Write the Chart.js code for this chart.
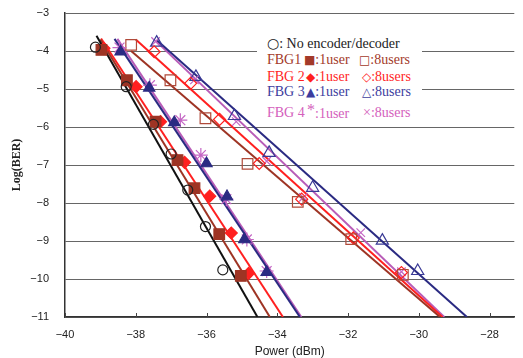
<!DOCTYPE html>
<html>
<head>
<meta charset="utf-8">
<script src="https://cdn.jsdelivr.net/npm/chart.js@4"></script>
<style>
  html, body { margin: 0; padding: 0; background: #fff; }
  #wrap { position: relative; width: 523px; height: 358px; }
  #legend { position: absolute; left: 257px; top: 33px; width: 165px; height: 94px; background: #fff;
    font-family: "Liberation Serif", "Times New Roman", serif; font-size: 14px; }
  #legend .row { position: absolute; left: 0; width: 165px; height: 14px; line-height: 14px; white-space: nowrap; }
  #legend span { position: absolute; top: 0; white-space: nowrap; }
  #legend b { font-weight: normal; font-family: "DejaVu Sans", sans-serif; font-size: 12px; }
  #legend i { font-style: normal; font-size: 16px; position: relative; top: -3px; }
</style>
</head>
<body>
<div id="wrap">
  <canvas id="berChart" width="523" height="358"></canvas>
  <div id="legend">
    <div class="row" style="top:3px;color:#222"><span style="left:10px"><b style="font-size:14px">○</b>: No encoder/decoder</span></div>
    <div class="row" style="top:20px;color:#a33a2a"><span style="left:10px">FBG1</span><span style="left:47px"><b>■</b>:1user</span><span style="left:102px"><b>□</b>:8users</span></div>
    <div class="row" style="top:37px;color:#ff1f1f"><span style="left:10px">FBG 2</span><span style="left:49px"><b>◆</b>:1user</span><span style="left:105px"><b>◇</b>:8users</span></div>
    <div class="row" style="top:52px;color:#3d3d9e"><span style="left:10px">FBG 3</span><span style="left:49px"><b>▲</b>:1user</span><span style="left:105px"><b>△</b>:8users</span></div>
    <div class="row" style="top:73px;color:#d460bc"><span style="left:10px">FBG 4</span><span style="left:50px"><i>*</i>:1user</span><span style="left:106px">×:8users</span></div>
  </div>
</div>
<script>
// measured points, Power (dBm) vs Log(BER)
var noCoderX = [-39.14, -38.27, -37.50, -37.00, -36.53, -36.03, -35.54];
var noCoderY = [-3.90, -4.94, -5.93, -6.71, -7.66, -8.62, -9.76];

var fbg1OneX = [-38.97, -38.25, -37.44, -36.82, -36.34, -35.64, -35.03];
var fbg1OneY = [-3.97, -4.77, -5.86, -6.87, -7.61, -8.82, -9.92];
var fbg2OneX = [-38.90, -37.99, -37.30, -36.62, -35.91, -35.30, -34.81];
var fbg2OneY = [-3.93, -4.94, -5.86, -6.93, -7.82, -8.79, -9.85];
var fbg3OneX = [-38.43, -37.62, -36.91, -36.00, -35.42, -34.93, -34.30];
var fbg3OneY = [-4.02, -4.97, -5.88, -6.96, -7.83, -8.96, -9.82];
var fbg4OneX = [-38.46, -37.60, -36.74, -36.16, -35.44, -34.86, -34.30];
var fbg4OneY = [-3.91, -4.90, -5.82, -6.74, -7.90, -8.96, -9.79];

var fbg1EightX = [-38.13, -37.02, -36.03, -34.84, -33.42, -31.91, -30.45];
var fbg1EightY = [-3.84, -4.77, -5.77, -6.97, -7.97, -8.95, -9.89];
var fbg2EightX = [-37.48, -36.45, -35.63, -34.51, -33.31, -31.85, -30.49];
var fbg2EightY = [-4.02, -4.85, -5.80, -6.96, -7.90, -8.92, -9.83];
var fbg3EightX = [-37.41, -36.30, -35.21, -34.23, -33.00, -31.03, -30.03];
var fbg3EightY = [-3.78, -4.68, -5.71, -6.68, -7.60, -8.99, -9.79];
var fbg4EightX = [-37.44, -36.34, -35.16, -34.30, -33.26, -31.64, -30.49];
var fbg4EightY = [-3.75, -4.76, -5.86, -6.90, -7.85, -8.78, -9.81];

// trend lines (start, end)
var trendNoCoderX = [-39.11, -34.56];   var trendNoCoderY = [-3.60, -11];
var trendFbg1OneX = [-39.00, -34.21];   var trendFbg1OneY = [-3.70, -11];
var trendFbg2OneX = [-38.98, -33.84];   var trendFbg2OneY = [-3.67, -11];
var trendFbg3OneX = [-38.60, -33.36];   var trendFbg3OneY = [-3.68, -11];
var trendFbg4OneX = [-38.52, -33.32];   var trendFbg4OneY = [-3.68, -11];
var trendFbg1EightX = [-38.13, -29.40]; var trendFbg1EightY = [-4.00, -11];
var trendFbg2EightX = [-38.00, -29.33]; var trendFbg2EightY = [-3.70, -11];
var trendFbg3EightX = [-37.41, -28.64]; var trendFbg3EightY = [-3.71, -11];
var trendFbg4EightX = [-37.45, -29.28]; var trendFbg4EightY = [-3.72, -11];

var xTicks = [-40, -38, -36, -34, -32, -30, -28];
var yTicks = [-11, -10, -9, -8, -7, -6, -5, -4, -3];

var darkRed = '#9e3424', red = '#ff2020', navy = '#2a2a82', pink = '#b85cb8';

function pts(xs, ys) {
  return xs.map(function (x, i) { return {x: x, y: ys[i]}; });
}

function markers(xs, ys, style, radius, color, filled) {
  return {
    data: pts(xs, ys),
    showLine: false,
    pointStyle: style,
    pointRadius: radius,
    pointHoverRadius: radius,
    borderColor: color,
    backgroundColor: filled ? color : 'rgba(0,0,0,0)',
    pointBorderWidth: 1.2
  };
}

function trend(xs, ys, color) {
  return {
    data: pts(xs, ys),
    showLine: true,
    pointRadius: 0,
    borderColor: color,
    borderWidth: 2,
    fill: false
  };
}

// small upward tick marks on the x axis
var xTickMarks = {
  id: 'xTickMarks',
  afterDraw: function (chart) {
    var ctx = chart.ctx, sx = chart.scales.x, bottom = chart.chartArea.bottom;
    ctx.save();
    ctx.strokeStyle = '#444';
    ctx.lineWidth = 1;
    xTicks.forEach(function (v) {
      var px = Math.round(sx.getPixelForValue(v)) + 0.5;
      ctx.beginPath();
      ctx.moveTo(px, bottom);
      ctx.lineTo(px, bottom - 4);
      ctx.stroke();
    });
    ctx.restore();
  }
};

function minusLabel(v) {
  return v < 0 ? '\u2212' + Math.abs(v) : String(v);
}

var ctx = document.getElementById('berChart').getContext('2d');
var berChart = new Chart(ctx, {
  type: 'scatter',
  data: {
    datasets: [
      markers(noCoderX, noCoderY, 'circle', 5, '#222', false),
      markers(fbg1OneX, fbg1OneY, 'rect', 7.5, darkRed, true),
      markers(fbg2OneX, fbg2OneY, 'rectRot', 6, red, true),
      markers(fbg3OneX, fbg3OneY, 'triangle', 6.5, navy, true),
      markers(fbg4OneX, fbg4OneY, 'star', 7, '#c466c4', false),
      markers(fbg1EightX, fbg1EightY, 'rect', 7.5, '#b04a3a', false),
      markers(fbg2EightX, fbg2EightY, 'rectRot', 6, red, false),
      markers(fbg3EightX, fbg3EightY, 'triangle', 7, '#3a3a96', false),
      markers(fbg4EightX, fbg4EightY, 'crossRot', 6, '#c466c4', false),
      trend(trendNoCoderX, trendNoCoderY, '#111'),
      trend(trendFbg1OneX, trendFbg1OneY, darkRed),
      trend(trendFbg2OneX, trendFbg2OneY, red),
      trend(trendFbg3OneX, trendFbg3OneY, navy),
      trend(trendFbg4OneX, trendFbg4OneY, pink),
      trend(trendFbg1EightX, trendFbg1EightY, darkRed),
      trend(trendFbg2EightX, trendFbg2EightY, red),
      trend(trendFbg3EightX, trendFbg3EightY, navy),
      trend(trendFbg4EightX, trendFbg4EightY, pink)
    ]
  },
  options: {
    responsive: false,
    animation: false,
    layout: { padding: { left: 0, right: 3, top: 13, bottom: 0 } },
    plugins: { legend: { display: false }, tooltip: { enabled: false } },
    scales: {
      x: {
        type: 'linear',
        min: -40,
        max: -27.3,
        afterBuildTicks: function (scale) {
          scale.ticks = xTicks.map(function (v) { return {value: v}; });
        },
        afterFit: function (scale) {
          scale.height = 41;
          scale.paddingLeft = 0;
          scale.paddingRight = 0;
        },
        grid: { display: false, drawTicks: false },
        border: { display: true, color: '#333', width: 1.5 },
        ticks: {
          padding: 11,
          color: '#222',
          font: { family: '"Liberation Sans", Arial, sans-serif', size: 11 },
          callback: minusLabel
        },
        title: {
          display: true,
          text: 'Power (dBm)',
          color: '#222',
          padding: 0,
          font: { family: '"Liberation Sans", Arial, sans-serif', size: 12, lineHeight: 1 }
        }
      },
      y: {
        type: 'linear',
        min: -11,
        max: -3,
        afterBuildTicks: function (scale) {
          scale.ticks = yTicks.map(function (v) { return {value: v}; });
        },
        afterFit: function (scale) {
          scale.width = 65;
          scale.paddingTop = 0;
          scale.paddingBottom = 0;
        },
        grid: { color: '#666', lineWidth: 1, drawTicks: false },
        border: { display: true, color: '#333', width: 1.5 },
        ticks: {
          padding: 16,
          color: '#222',
          font: { family: '"Liberation Sans", Arial, sans-serif', size: 11 },
          callback: minusLabel
        },
        title: {
          display: true,
          text: 'Log(BER)',
          color: '#222',
          padding: { top: 10, bottom: 0 },
          font: { family: '"Liberation Serif", "Times New Roman", serif', size: 12, weight: 'bold' }
        }
      }
    }
  },
  plugins: [xTickMarks]
});
</script>
</body>
</html>
